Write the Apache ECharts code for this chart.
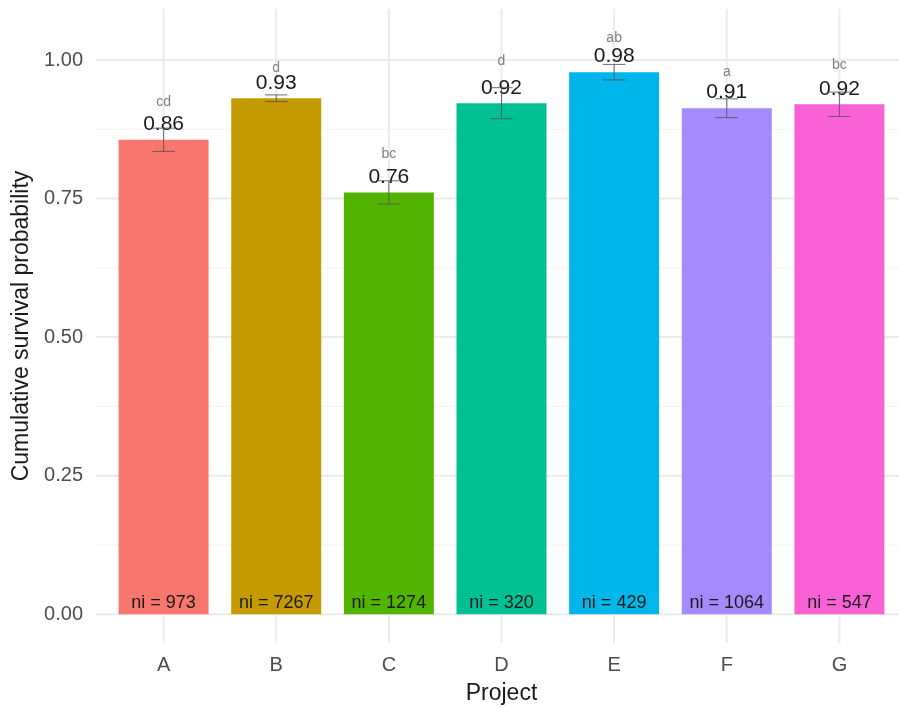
<!DOCTYPE html>
<html>
<head>
<meta charset="utf-8">
<script src="https://cdn.jsdelivr.net/npm/echarts@6/dist/echarts.min.js"></script>
<style>
  html, body { margin: 0; padding: 0; background: #ffffff; }
  #chart { width: 899px; height: 708px; }
</style>
</head>
<body>
<div id="chart"></div>
<script>
// Cumulative survival probability by project
const projects = ['A', 'B', 'C', 'D', 'E', 'F', 'G'];
const survival = [0.856, 0.931, 0.761, 0.922, 0.978, 0.913, 0.920];
const stdError = [0.021, 0.006, 0.021, 0.028, 0.014, 0.017, 0.022];
const groupLetters = ['cd', 'd', 'bc', 'd', 'ab', 'a', 'bc'];
const sampleSizes = [973, 7267, 1274, 320, 429, 1064, 547];
const yTicks = [0, 0.25, 0.5, 0.75, 1];
const yMinorTicks = [0.125, 0.375, 0.625, 0.875];

const palette = ['#F8766D', '#C49A00', '#53B400', '#00C094', '#00B6EB', '#A58AFF', '#FB61D7'];
const FONT = '"Liberation Sans", Arial, Helvetica, sans-serif';
const positions = projects.map((_, i) => i + 1);

const chart = echarts.init(document.getElementById('chart'), null, { renderer: 'canvas' });

const errStroke = { stroke: 'rgba(85,85,85,0.85)', lineWidth: 1 };

// horizontal panel grid line at a y value
function hLine(color, width) {
  return (params, api) => {
    const cs = params.coordSys;
    const y = api.coord([1, api.value(1)])[1];
    return { type: 'line', shape: { x1: cs.x, y1: y, x2: cs.x + cs.width, y2: y },
             style: { stroke: color, lineWidth: width }, silent: true };
  };
}
// vertical panel grid line at a category position
function vLine(color, width) {
  return (params, api) => {
    const cs = params.coordSys;
    const x = api.coord([api.value(0), 0])[0];
    return { type: 'line', shape: { x1: x, y1: cs.y, x2: x, y2: cs.y + cs.height },
             style: { stroke: color, lineWidth: width }, silent: true };
  };
}

chart.setOption({
  animation: false,
  backgroundColor: '#ffffff',
  grid: { left: 96, top: 9, width: 811, bottom: 65, containLabel: false, outerBoundsMode: 'none' },
  xAxis: {
    type: 'value',
    min: 0.4,
    max: 7.6,
    axisLine: { show: false },
    axisTick: { show: false },
    splitLine: { show: false },
    axisLabel: {
      customValues: positions,
      formatter: v => projects[Math.round(v) - 1] || '',
      color: '#4d4d4d',
      fontSize: 20,
      fontFamily: FONT,
      margin: 12
    },
    name: 'Project',
    nameLocation: 'middle',
    nameGap: 39,
    nameTextStyle: { color: '#1a1a1a', fontSize: 23, fontFamily: FONT }
  },
  yAxis: {
    type: 'value',
    min: -0.052,
    max: 1.092,
    axisLine: { show: false },
    axisTick: { show: false },
    splitLine: { show: false },
    axisLabel: {
      customValues: yTicks,
      formatter: v => v.toFixed(2),
      color: '#4d4d4d',
      fontSize: 20,
      fontFamily: FONT,
      margin: 13
    },
    name: 'Cumulative survival probability',
    nameLocation: 'middle',
    nameGap: 61,
    nameTextStyle: { color: '#1a1a1a', fontSize: 23, fontFamily: FONT }
  },
  series: [
    { type: 'custom', z: 0, silent: true, clip: false,
      data: yMinorTicks.map(v => [1, v]), renderItem: hLine('#f3f3f3', 1) },
    { type: 'custom', z: 0, silent: true, clip: false,
      data: yTicks.map(v => [1, v]), renderItem: hLine('#ebebeb', 2) },
    { type: 'custom', z: 0, silent: true, clip: false,
      data: positions.map(x => [x, 0]), renderItem: vLine('#ebebeb', 2) },
    {
      type: 'bar',
      z: 2,
      barWidth: 90,
      data: positions.map((x, i) => [x, survival[i]]),
      itemStyle: { color: p => palette[p.dataIndex] }
    },
    {
      // error bars and annotations
      type: 'custom',
      z: 3,
      clip: false,
      data: positions.map((x, i) => [x, survival[i], stdError[i]]),
      renderItem: (params, api) => {
        const i = params.dataIndex;
        const x = api.value(0), v = api.value(1), e = api.value(2);
        const top = api.coord([x, v]);
        const lo = api.coord([x, v - e]);
        const hi = api.coord([x, v + e]);
        const base = api.coord([x, 0]);
        const halfCap = api.coord([x + 0.1, 0])[0] - base[0];
        return {
          type: 'group',
          children: [
            { type: 'text', x: top[0], y: top[1] - 15.5,
              style: { text: v.toFixed(2), fill: '#1a1a1a', font: '21px ' + FONT, align: 'center', verticalAlign: 'middle' } },
            { type: 'line', shape: { x1: lo[0], y1: lo[1], x2: hi[0], y2: hi[1] }, style: errStroke },
            { type: 'line', shape: { x1: lo[0] - halfCap, y1: lo[1], x2: lo[0] + halfCap, y2: lo[1] }, style: errStroke },
            { type: 'line', shape: { x1: hi[0] - halfCap, y1: hi[1], x2: hi[0] + halfCap, y2: hi[1] }, style: errStroke },
            { type: 'text', x: hi[0], y: hi[1] - 26.5,
              style: { text: groupLetters[i], fill: '#7f7f7f', font: '14px ' + FONT, align: 'center', verticalAlign: 'middle' } },
            { type: 'text', x: base[0], y: base[1] - 11.5,
              style: { text: 'ni = ' + sampleSizes[i], fill: '#1a1a1a', font: '18px ' + FONT, align: 'center', verticalAlign: 'middle' } }
          ]
        };
      }
    }
  ]
});
</script>
</body>
</html>
